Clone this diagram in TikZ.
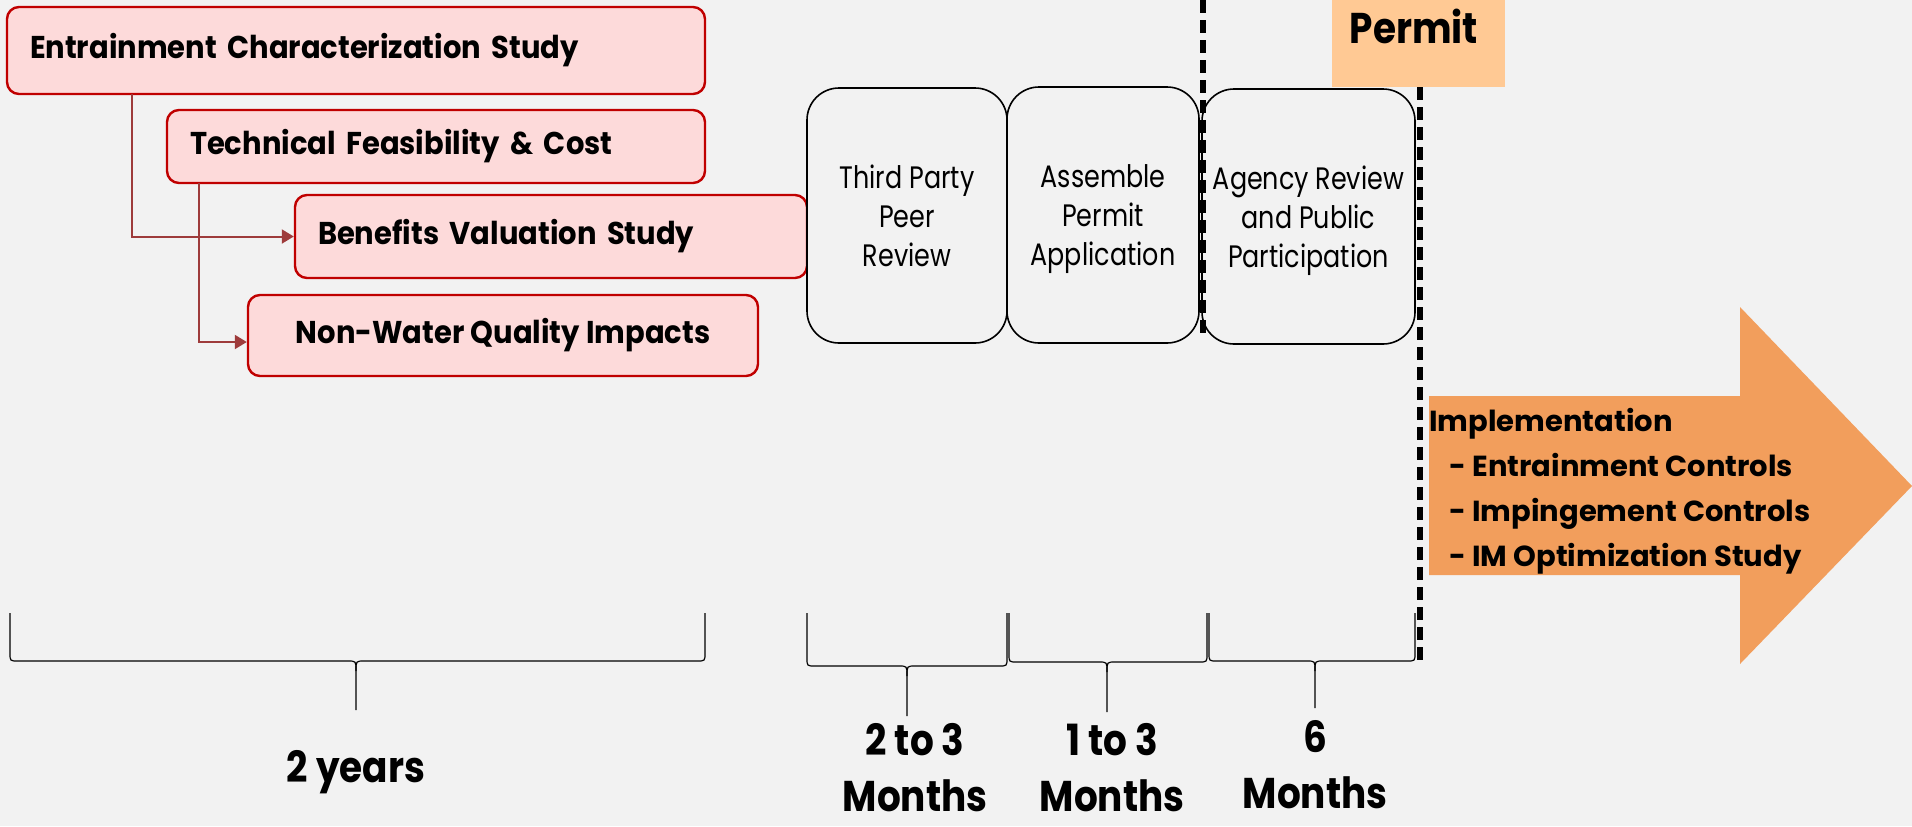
\documentclass[tikz,border=0pt]{standalone}
\usepackage{fontspec}
\setmainfont{Poppins}
\newfontfamily\boxfont[FakeStretch=0.92]{Poppins}
\newfontfamily\stepfont[FakeStretch=0.82]{Poppins}
\newfontfamily\spanfont[FakeStretch=0.87]{Poppins}
\usepackage{tikz}
\usetikzlibrary{arrows.meta}
\definecolor{bggray}{HTML}{F2F2F2}
\definecolor{studyfill}{HTML}{FDDADA}
\definecolor{studyline}{HTML}{C00000}
\definecolor{flowline}{HTML}{9E3B3B}
\definecolor{permitfill}{HTML}{FFC994}
\definecolor{implfill}{HTML}{F29E5C}

\begin{document}
\begin{tikzpicture}[x=0.5pt, y=-0.5pt,
    studybox/.style={draw=studyline, fill=studyfill, line width=1.2pt, rounded corners=6pt,
        inner xsep=11.5pt, inner ysep=0pt, font=\boxfont\bfseries\fontsize{15.75}{19}\selectfont},
    stepbox/.style={draw=black, fill=bggray, line width=0.8pt, rounded corners=16pt,
        inner xsep=2pt, align=center, font=\stepfont\fontsize{15.5}{19.5}\selectfont},
    flow/.style={draw=flowline, line width=1pt, -{Triangle[length=6pt,width=7pt]}},
    spanlabel/.style={align=center, inner sep=0pt, font=\spanfont\bfseries\fontsize{21.5}{28}\selectfont},
    brace/.style={line width=0.6pt},
    milestone/.style={line width=2.8pt, dash pattern=on 6.5pt off 3.5pt}]
    \useasboundingbox (0,0) rectangle (1912,826);
    \fill[bggray] (0,0) rectangle (1912,826);

    % Studies
    \node[studybox, minimum width=349pt, minimum height=43.5pt, text width=326pt, align=left] (ecs) at (356,50.5) {Entrainment Characterization Study};
    \node[studybox, minimum width=269pt, minimum height=36.5pt, text width=246pt, align=left] (tfc) at (436,146.5) {Technical Feasibility \& Cost};
    \node[studybox, minimum width=256pt, minimum height=41.5pt, text width=233pt, align=left] (bvs) at (551,236.5) {Benefits Valuation Study};
    \node[studybox, minimum width=255pt, minimum height=40.5pt] (nwq) at (503,335.5) {Non-Water Quality Impacts};

    \coordinate (ecsdrop) at (132,94);
    \coordinate (tfcdrop) at (199,183);
    \draw[flow] (ecsdrop) |- (bvs.west);
    \draw[flow] (tfcdrop) |- ([yshift=-3.25pt]nwq.west);

    % Permit steps
    \node[stepbox, minimum width=100pt, minimum height=127.5pt] (tpr) at (907,215.5) {\rule{0pt}{16pt}Third Party\\Peer\\Review\rule[-4pt]{0pt}{0pt}};
    \node[stepbox, minimum width=96pt, minimum height=128pt] (apa) at (1103,215) {\rule{0pt}{16pt}Assemble\\Permit\\Application\rule[-4pt]{0pt}{0pt}};
    \node[stepbox, minimum width=106.5pt, minimum height=127.5pt] (arp) at (1308.5,216.5) {\rule{0pt}{16pt}Agency Review\\and Public\\Participation\rule[-4pt]{0pt}{0pt}};

    \node[fill=permitfill, minimum width=86.5pt, minimum height=43.5pt] (permit) at (1418.5,43.5) {};
    \node[font=\spanfont\bfseries\fontsize{21.5}{24}\selectfont, anchor=base] (permitlabel) at (1414,43) {Permit};

    % Draw milestones
    \coordinate (gatetop) at (1203,0);
    \coordinate (gatebottom) at (1203,335);
    \coordinate (permitend) at (1420,665);
    \draw[milestone] (gatetop) -- (gatebottom);
    \draw[milestone] (permit.south -| permitend) -- (permitend);

    % Implementation arrow
    \coordinate (I_1) at (1429,396);
    \coordinate (I_2) at (1740,396);
    \coordinate (I_3) at (1740,307);
    \coordinate (I_4) at (1912,486);
    \coordinate (I_5) at (1740,664);
    \coordinate (I_6) at (1740,575);
    \coordinate (I_7) at (1429,575);
    \fill[implfill] (I_1) -- (I_2) -- (I_3) -- (I_4) -- (I_5) -- (I_6) -- (I_7) -- cycle;
    \node[anchor=north west, inner sep=0pt, align=left, font=\bfseries\fontsize{14.5}{22.5}\selectfont] (impl) at (1429,408)
        {Implementation\\\hspace*{10pt}- Entrainment Controls\\\hspace*{10pt}- Impingement Controls\\\hspace*{10pt}- IM Optimization Study};

    % Draw braces
    \draw[brace] (10,613) -- (10,653) .. controls (10,661) .. (18,661) -- (348,661) .. controls (356,661) .. (356,671) -- (356,710);
    \draw[brace] (705,613) -- (705,653) .. controls (705,661) .. (697,661) -- (364,661) .. controls (356,661) .. (356,671);
    \draw[brace] (807,613) -- (807,658) .. controls (807,666) .. (815,666) -- (899,666) .. controls (907,666) .. (907,676) -- (907,716);
    \draw[brace] (1007,613) -- (1007,658) .. controls (1007,666) .. (999,666) -- (915,666) .. controls (907,666) .. (907,676);
    \draw[brace] (1009,613) -- (1009,654) .. controls (1009,662) .. (1017,662) -- (1099,662) .. controls (1107,662) .. (1107,672) -- (1107,712);
    \draw[brace] (1207,613) -- (1207,654) .. controls (1207,662) .. (1199,662) -- (1115,662) .. controls (1107,662) .. (1107,672);
    \draw[brace] (1209,613) -- (1209,653) .. controls (1209,661) .. (1217,661) -- (1307,661) .. controls (1315,661) .. (1315,671) -- (1315,708);
    \draw[brace] (1415,613) -- (1415,653) .. controls (1415,661) .. (1407,661) -- (1323,661) .. controls (1315,661) .. (1315,671);

    \node[spanlabel, anchor=base] (yearspan) at (356,782) {2 years};
    \node[spanlabel] (peerspan) at (915,768) {2 to 3\\Months};
    \node[spanlabel] (assemblespan) at (1112,768) {1 to 3\\Months};
    \node[spanlabel] (agencyspan) at (1315,765) {6\\Months};
\end{tikzpicture}
\end{document}
